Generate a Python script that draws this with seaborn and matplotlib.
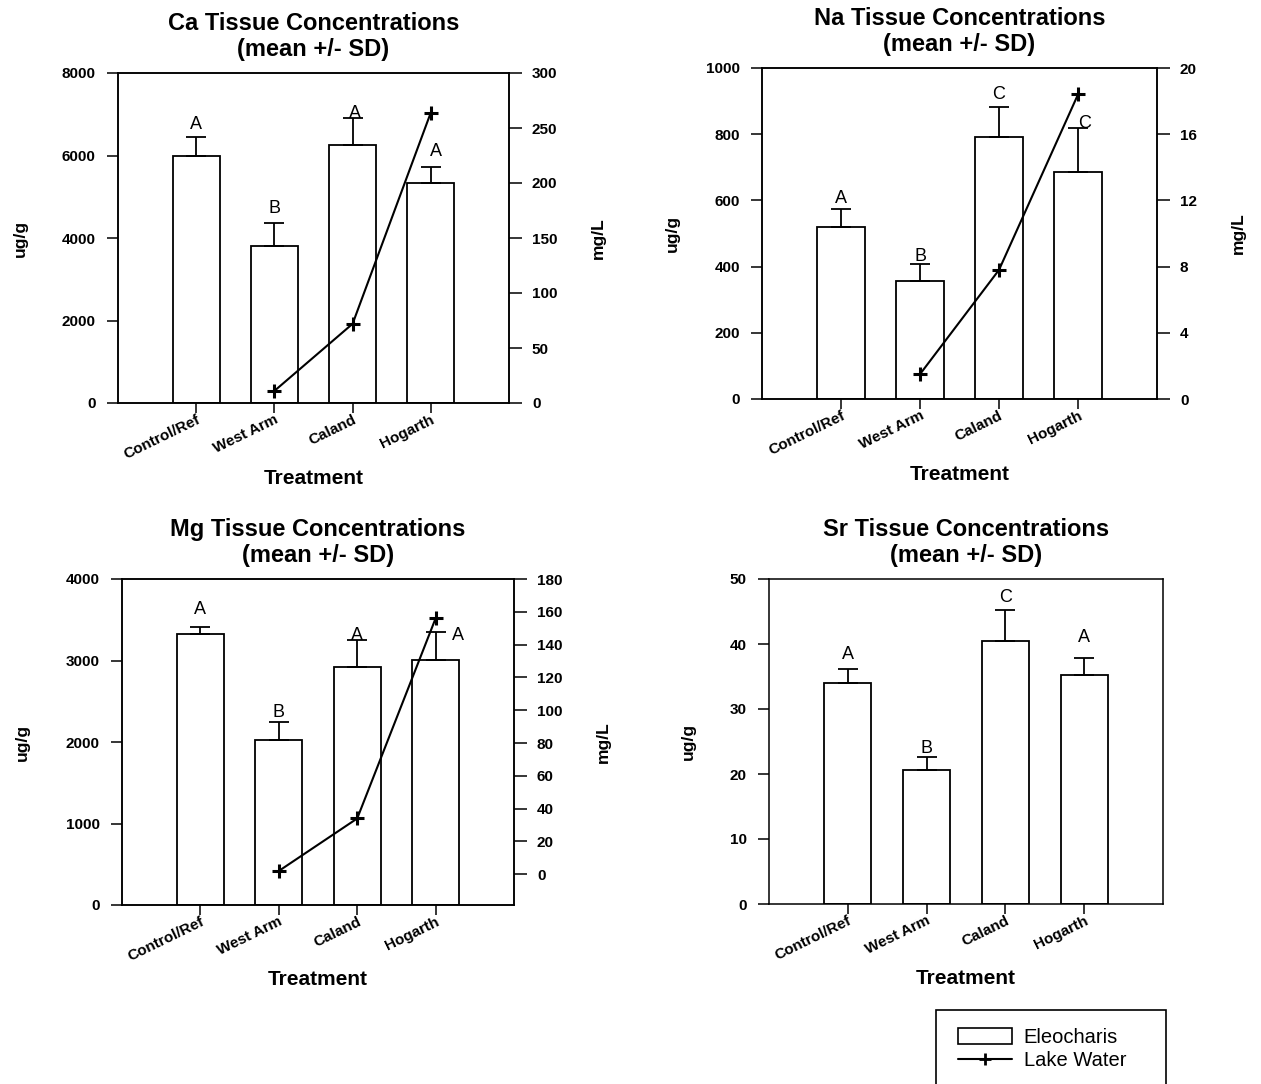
import numpy as np
import pandas as pd
import matplotlib
matplotlib.use("Agg")
import matplotlib.pyplot as plt
import seaborn as sns
from matplotlib.patches import Patch, Rectangle
from matplotlib.lines import Line2D

# ---------------- data ----------------
categories = ["Control/Ref", "West Arm", "Caland", "Hogarth"]

ca_mean = [6000, 3800, 6250, 5330]
ca_sd = [450, 560, 660, 400]
ca_letters = ["A", "B", "A", "A"]
ca_water = [np.nan, 11, 72, 264]
ca_yticks = [0, 2000, 4000, 6000, 8000]
ca_water_ticks = [0, 50, 100, 150, 200, 250, 300]

na_mean = [520, 358, 792, 686]
na_sd = [55, 50, 90, 134]
na_letters = ["A", "B", "C", "C"]
na_water = [np.nan, 1.5, 7.8, 18.4]
na_yticks = [0, 200, 400, 600, 800, 1000]
na_water_ticks = [0, 4, 8, 12, 16, 20]

mg_mean = [3330, 2025, 2920, 3010]
mg_sd = [75, 225, 330, 335]
mg_letters = ["A", "B", "A", "A"]
mg_water = [np.nan, 2, 34, 156]
mg_yticks = [0, 1000, 2000, 3000, 4000]
mg_water_ticks = [0, 20, 40, 60, 80, 100, 120, 140, 160, 180]

sr_mean = [34.0, 20.6, 40.4, 35.3]
sr_sd = [2.1, 2.0, 4.8, 2.6]
sr_letters = ["A", "B", "C", "A"]
sr_yticks = [0, 10, 20, 30, 40, 50]

# ---------------- style ----------------
sns.set_style("ticks")
plt.rcParams["font.family"] = ["Liberation Sans", "DejaVu Sans"]
plt.rcParams["axes.linewidth"] = 1.1
for k in ["text.color", "axes.labelcolor", "xtick.color", "ytick.color",
          "axes.edgecolor"]:
    plt.rcParams[k] = "black"

W, H = 1261, 1084
fig = plt.figure(figsize=(W / 100, H / 100), dpi=100)
fig.patch.set_facecolor("white")


def rect(l, t, r, b):
    return [l / W, 1 - b / H, (r - l) / W, (b - t) / H]


panels = [
    dict(name="Ca", box=(118, 73, 509, 403), mean=ca_mean, sd=ca_sd, letters=ca_letters,
         water=ca_water, yticks=ca_yticks, wticks=ca_water_ticks, wlim=(0, 300),
         offs=[(0, 8), (0, 10), (2, 0), (5, 11)], ylab_x=20, wlab_x=598, xlab_y=479),
    dict(name="Na", box=(762, 68, 1157, 399), mean=na_mean, sd=na_sd, letters=na_letters,
         water=na_water, yticks=na_yticks, wticks=na_water_ticks, wlim=(0, 20),
         offs=[(0, 6), (0, 3), (0, 8), (7, 0)], ylab_x=672, wlab_x=1238, xlab_y=474),
    dict(name="Mg", box=(122, 579, 514, 905), mean=mg_mean, sd=mg_sd, letters=mg_letters,
         water=mg_water, yticks=mg_yticks, wticks=mg_water_ticks, wlim=(-18.75, 180),
         offs=[(0, 13), (0, 5), (0, 0), (22, -8)], ylab_x=22, wlab_x=603, xlab_y=980),
    dict(name="Sr", box=(769, 579, 1163, 904), mean=sr_mean, sd=sr_sd, letters=sr_letters,
         water=None, yticks=sr_yticks, wticks=None, wlim=None,
         offs=[(0, 10), (0, 4), (0, 8), (0, 16)], ylab_x=688, wlab_x=None, xlab_y=979),
]

tick_font = dict(fontsize=11, fontweight="bold")
x = np.arange(len(categories))

for p in panels:
    l, t, r, b = p["box"]
    ax = fig.add_axes(rect(l, t, r, b))
    df = pd.DataFrame({"Treatment": categories, "value": p["mean"]})
    sns.barplot(data=df, x="Treatment", y="value", ax=ax, color="white",
                edgecolor="black", linewidth=1.3, width=0.6, saturation=1,
                errorbar=None)
    ax.errorbar(x, p["mean"], yerr=[np.zeros(len(x)), p["sd"]], fmt="none",
                ecolor="black", elinewidth=1.3, capsize=7, capthick=1.3, zorder=3)
    for i, (lab, (dx, dy)) in enumerate(zip(p["letters"], p["offs"])):
        ax.annotate(lab, xy=(i, p["mean"][i] + p["sd"][i]),
                    xytext=(dx * 0.72, dy * 0.72), textcoords="offset points",
                    ha="center", va="baseline", fontsize=13, color="black")
    ax.set_xlim(-1, 4)
    ax.set_ylim(p["yticks"][0], p["yticks"][-1])
    ax.set_yticks(p["yticks"])
    ax.set_yticklabels([str(v) for v in p["yticks"]], **tick_font)
    ax.set_xticks(x)
    ax.set_xticklabels(categories, rotation=26, ha="right", va="top",
                       rotation_mode="anchor", **tick_font)
    ax.tick_params(axis="x", direction="out", length=7, width=1.1, pad=0,
                   bottom=True, top=False)
    ax.tick_params(axis="y", direction="out", length=8, width=1.1, pad=8,
                   left=True, right=False)
    for s in ax.spines.values():
        s.set_visible(True)
        s.set_color("black")
        s.set_linewidth(1.1)
    ax.set_title(f"{p['name']} Tissue Concentrations\n(mean +/- SD)",
                 fontsize=17, fontweight="bold", pad=12, linespacing=1.2)
    ax.set_xlabel("Treatment", fontsize=15, fontweight="bold")
    ax.xaxis.set_label_coords(0.5, -(p["xlab_y"] - b) / (b - t))
    ax.xaxis.label.set_va("center")
    ax.set_ylabel("ug/g", fontsize=12.5, fontweight="bold")
    ax.yaxis.set_label_coords(-(l - p["ylab_x"]) / (r - l), 0.5)
    ax.yaxis.label.set_va("center")

    if p["water"] is not None:
        ax2 = ax.twinx()
        sns.lineplot(x=x, y=p["water"], ax=ax2, color="black", linewidth=1.5,
                     marker="+", markersize=10, markeredgewidth=2.2,
                     markeredgecolor="black", legend=False)
        ax2.set_xlim(-1, 4)
        ax2.set_ylim(*p["wlim"])
        ax2.set_yticks(p["wticks"])
        ax2.set_yticklabels([str(v) for v in p["wticks"]], **tick_font)
        ax2.tick_params(axis="y", direction="out", length=9.5, width=1.1, pad=7,
                        right=True, left=False)
        ax2.set_ylabel("mg/L", fontsize=12.5, fontweight="bold", rotation=90)
        ax2.yaxis.set_label_coords(1 + (p["wlab_x"] - r) / (r - l), 0.5)
        ax2.yaxis.label.set_va("center")
        for s in ax2.spines.values():
            s.set_color("black")
            s.set_linewidth(1.1)

# ---------------- legend ----------------
frame = Rectangle((936 / W, 1 - 1095 / H), (1166 - 936) / W, (1095 - 1010) / H,
                  transform=fig.transFigure, facecolor="white", edgecolor="black",
                  linewidth=1.2, zorder=1)
fig.patches.append(frame)
handles = [Patch(facecolor="white", edgecolor="black", linewidth=1.2),
           Line2D([], [], color="black", linewidth=1.5, marker="+",
                  markersize=8, markeredgewidth=2)]
fig.legend(handles, ["Eleocharis", "Lake Water"], loc="upper left",
           bbox_to_anchor=(944 / W, 1 - 1014 / H), frameon=False, fontsize=14.5,
           handlelength=2.7, handleheight=0.8, handletextpad=0.55,
           labelspacing=0.2, borderpad=0.2)

fig.savefig("out.png", dpi=100, facecolor="white")
